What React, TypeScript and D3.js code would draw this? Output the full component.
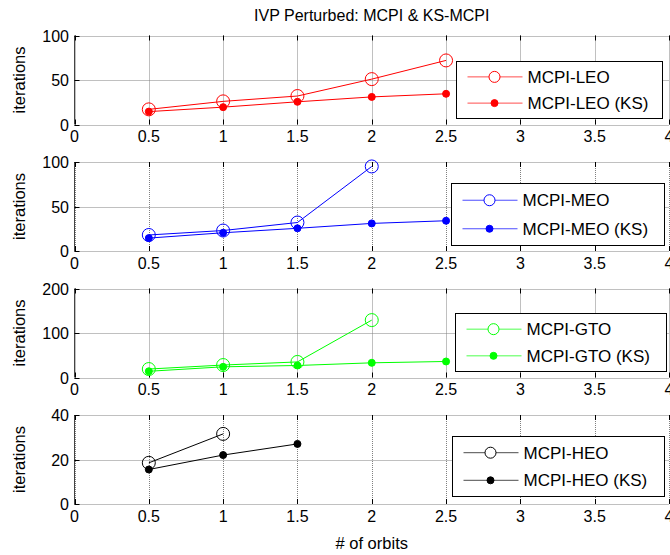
import React from "react";
import * as d3 from "d3";

const xTicks = [0, 0.5, 1, 1.5, 2, 2.5, 3, 3.5, 4];
const xTickLabels = ["0", "0.5", "1", "1.5", "2", "2.5", "3", "3.5", "4"];

const leoX = [0.5, 1, 1.5, 2, 2.5];
const leoMcpi = [17, 26, 32, 51, 72];
const leoKsX = [0.5, 1, 1.5, 2, 2.5];
const leoKs = [14.5, 19.5, 25.5, 31, 34.5];

const meoX = [0.5, 1, 1.5, 2];
const meoMcpi = [18, 23, 32, 95];
const meoKsX = [0.5, 1, 1.5, 2, 2.5];
const meoKs = [14.5, 20.5, 25.5, 31, 34];

const gtoX = [0.5, 1, 1.5, 2];
const gtoMcpi = [19, 28, 35, 129];
const gtoKsX = [0.5, 1, 1.5, 2, 2.5];
const gtoKs = [14, 24, 27, 33, 36];

const heoX = [0.5, 1];
const heoMcpi = [18.5, 31.5];
const heoKsX = [0.5, 1, 1.5];
const heoKs = [15.5, 22, 27];

const panels = [
  { name: "LEO", color: "#ff0000", ymax: 100, yTicks: [0, 50, 100], x: leoX, y: leoMcpi, kx: leoKsX, ky: leoKs, top: 35.5, legend: { x: 456.5, y: 61.5, w: 206, h: 57 } },
  { name: "MEO", color: "#0000ff", ymax: 100, yTicks: [0, 50, 100], x: meoX, y: meoMcpi, kx: meoKsX, ky: meoKs, top: 162, legend: { x: 451.5, y: 183.5, w: 213, h: 62 } },
  { name: "GTO", color: "#00ff00", ymax: 200, yTicks: [0, 100, 200], x: gtoX, y: gtoMcpi, kx: gtoKsX, ky: gtoKs, top: 288.5, legend: { x: 455.5, y: 313.5, w: 211, h: 58 } },
  { name: "HEO", color: "#000000", ymax: 40, yTicks: [0, 20, 40], x: heoX, y: heoMcpi, kx: heoKsX, ky: heoKs, top: 415, legend: { x: 452.5, y: 436.5, w: 212, h: 60 } },
];

const W = 670;
const H = 555;
const X0 = 74.5;
const X1 = 669;
const PH = 89;
const FONT = "Liberation Sans, Arial, sans-serif";

export default function App() {
  const xs = d3.scaleLinear().domain([0, 4]).range([X0, X1]);
  return (
    <svg width={W} height={H} style={{ position: "absolute", left: 0, top: 0, background: "#fff" }} fontFamily={FONT}>
      <rect x={0} y={0} width={W} height={H} fill="#fff" />
      <text x={(X0 + X1) / 2} y={21} textAnchor="middle" fontSize={16} fill="#000">
        IVP Perturbed: MCPI &amp; KS-MCPI
      </text>
      {panels.map((p, i) => {
        const ys = d3.scaleLinear().domain([0, p.ymax]).range([p.top + PH, p.top]);
        const line = d3.line<[number, number]>().x((d) => xs(d[0])).y((d) => ys(d[1]));
        const pts1: [number, number][] = p.x.map((v, j) => [v, p.y[j]]);
        const pts2: [number, number][] = p.kx.map((v, j) => [v, p.ky[j]]);
        const bottom = p.top + PH;
        const lg = p.legend;
        const r1 = lg.y + lg.h * 0.27;
        const r2 = lg.y + lg.h * 0.73;
        return (
          <g key={i}>
            {xTicks.map((t, j) => (
              <line key={"gx" + j} x1={Math.round(xs(t)) + 0.5} x2={Math.round(xs(t)) + 0.5} y1={p.top} y2={bottom} stroke="#808080" strokeDasharray="1,1" strokeWidth={1} />
            ))}
            {p.yTicks.map((t, j) => (
              <line key={"gy" + j} x1={X0} x2={X1} y1={Math.round(ys(t)) + 0.5} y2={Math.round(ys(t)) + 0.5} stroke="#808080" strokeDasharray="1,1" strokeWidth={1} />
            ))}
            <line x1={X0} x2={X0} y1={p.top} y2={bottom} stroke="#444" strokeWidth={1} />
            {xTicks.map((t, j) => (
              <g key={"tx" + j}>
                <line x1={Math.round(xs(t)) + 0.5} x2={Math.round(xs(t)) + 0.5} y1={bottom} y2={bottom - 5} stroke="#000" />
                <line x1={Math.round(xs(t)) + 0.5} x2={Math.round(xs(t)) + 0.5} y1={p.top} y2={p.top + 5} stroke="#000" />
                <text x={xs(t)} y={bottom + 17.5} textAnchor="middle" fontSize={16} fill="#000">
                  {xTickLabels[j]}
                </text>
              </g>
            ))}
            {p.yTicks.map((t, j) => (
              <g key={"ty" + j}>
                <line x1={X0} x2={X0 + 5} y1={Math.round(ys(t)) + 0.5} y2={Math.round(ys(t)) + 0.5} stroke="#000" />
                <text x={69} y={ys(t) + 6} textAnchor="end" fontSize={16} fill="#000">
                  {t}
                </text>
              </g>
            ))}
            <text transform={`translate(25,${p.top + PH / 2}) rotate(-90)`} textAnchor="middle" fontSize={16.5} fill="#000">
              iterations
            </text>
            <path d={line(pts1) || ""} fill="none" stroke={p.color} strokeWidth={1} />
            <path d={line(pts2) || ""} fill="none" stroke={p.color} strokeWidth={1} />
            {pts1.map((d, j) => (
              <circle key={"c" + j} cx={xs(d[0])} cy={ys(d[1])} r={6.5} fill="none" stroke={p.color} strokeWidth={1} />
            ))}
            {pts2.map((d, j) => (
              <circle key={"f" + j} cx={xs(d[0])} cy={ys(d[1])} r={3.5} fill={p.color} stroke={p.color} />
            ))}
            <rect x={lg.x} y={lg.y} width={lg.w} height={lg.h} fill="#fff" stroke="#000" strokeWidth={1} />
            <line x1={lg.x + 11} x2={lg.x + 66} y1={r1} y2={r1} stroke={p.color} strokeOpacity={0.7} />
            <circle cx={lg.x + 38} cy={r1} r={5.5} fill="#fff" stroke={p.color} />
            <text x={lg.x + 71} y={r1 + 6} fontSize={17} fill="#000">
              {`MCPI-${p.name}`}
            </text>
            <line x1={lg.x + 11} x2={lg.x + 66} y1={r2} y2={r2} stroke={p.color} strokeOpacity={0.7} />
            <circle cx={lg.x + 38} cy={r2} r={3.5} fill={p.color} stroke={p.color} />
            <text x={lg.x + 71} y={r2 + 6} fontSize={17} fill="#000">
              {`MCPI-${p.name} (KS)`}
            </text>
          </g>
        );
      })}
      <text x={(X0 + X1) / 2} y={549} textAnchor="middle" fontSize={16.5} fill="#000">
        # of orbits
      </text>
    </svg>
  );
}
